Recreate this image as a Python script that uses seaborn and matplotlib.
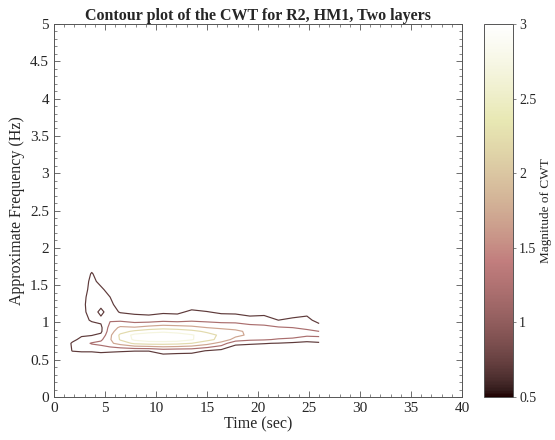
import numpy as np
import matplotlib
matplotlib.use("Agg")
import matplotlib.pyplot as plt
from matplotlib.ticker import MultipleLocator
import seaborn as sns

# ====================================
# DATA
# ====================================
freqs = [0.41, 0.52, 0.62, 0.72, 0.77, 0.83, 0.88, 0.93, 1.03, 1.14, 1.24, 1.34, 1.44, 1.55, 1.65, 1.75, 1.86]
times = [0, 0.8, 1.8, 2.7, 3.7, 4.6, 5.5, 6.5, 7.9, 9.3, 10.7, 12.1, 13.5, 15, 16.4, 17.8, 19.2, 20.6, 22, 23.4, 24.8, 26]

# one list per time column, values along freqs
cwt_mag = [
    [0.05, 0.1, 0.2, 0.25, 0.25, 0.2, 0.2, 0.15, 0.15, 0.1, 0.1, 0.1, 0.1, 0.05, 0.05, 0.05, 0.05],
    [0.1, 0.2, 0.35, 0.4, 0.4, 0.35, 0.3, 0.3, 0.25, 0.2, 0.2, 0.15, 0.1, 0.1, 0.1, 0.1, 0.1],
    [0.15, 0.35, 0.72, 0.75, 0.6, 0.5, 0.45, 0.4, 0.35, 0.35, 0.3, 0.25, 0.2, 0.15, 0.1, 0.1, 0.1],
    [0.2, 0.4, 0.75, 0.95, 0.8, 0.65, 0.5, 0.5, 0.55, 0.55, 0.55, 0.5, 0.4, 0.35, 0.3, 0.2, 0.1],
    [0.2, 0.4, 0.75, 1.25, 0.9, 0.68, 0.55, 0.5, 0.75, 0.9, 0.95, 0.95, 0.9, 0.85, 0.75, 0.5, 0.3],
    [0.2, 0.4, 0.8, 1.35, 1.1, 0.8, 0.6, 0.6, 0.8, 0.6, 0.8, 0.85, 0.8, 0.55, 0.4, 0.25, 0.15],
    [0.15, 0.35, 0.78, 1.6, 1.65, 1.6, 1.5, 1.4, 1.15, 0.9, 0.8, 0.7, 0.5, 0.35, 0.25, 0.2, 0.1],
    [0.15, 0.35, 0.75, 1.9, 2.25, 2.3, 2.0, 1.8, 1.1, 0.66, 0.5, 0.35, 0.25, 0.2, 0.15, 0.1, 0.1],
    [0.1, 0.3, 0.72, 2.3, 2.8, 2.85, 2.3, 1.75, 0.95, 0.6, 0.35, 0.25, 0.2, 0.15, 0.1, 0.1, 0.1],
    [0.1, 0.3, 0.72, 2.4, 3.0, 3.0, 2.5, 1.9, 0.95, 0.55, 0.35, 0.25, 0.2, 0.15, 0.1, 0.1, 0.1],
    [0.15, 0.45, 0.9, 2.4, 3.05, 3.05, 2.6, 2.0, 1.05, 0.62, 0.4, 0.3, 0.2, 0.15, 0.1, 0.1, 0.1],
    [0.15, 0.45, 0.85, 2.35, 3.0, 2.95, 2.5, 1.95, 1.0, 0.6, 0.4, 0.3, 0.2, 0.15, 0.1, 0.1, 0.1],
    [0.15, 0.4, 0.85, 2.2, 2.75, 2.75, 2.35, 1.85, 1.1, 0.8, 0.45, 0.3, 0.2, 0.15, 0.1, 0.1, 0.1],
    [0.1, 0.3, 0.68, 1.9, 2.35, 2.4, 2.1, 1.7, 1.05, 0.72, 0.4, 0.3, 0.2, 0.15, 0.1, 0.1, 0.1],
    [0.1, 0.25, 0.55, 1.5, 2.05, 2.1, 1.95, 1.6, 1.0, 0.62, 0.35, 0.25, 0.2, 0.15, 0.1, 0.1, 0.1],
    [0.1, 0.2, 0.45, 0.78, 1.5, 1.85, 1.8, 1.55, 1.0, 0.6, 0.35, 0.25, 0.2, 0.15, 0.1, 0.1, 0.1],
    [0.1, 0.15, 0.4, 0.75, 1.3, 1.6, 1.6, 1.45, 0.85, 0.55, 0.3, 0.2, 0.15, 0.1, 0.1, 0.1, 0.1],
    [0.1, 0.15, 0.35, 0.72, 1.25, 1.5, 1.5, 1.35, 0.9, 0.55, 0.3, 0.2, 0.15, 0.1, 0.1, 0.1, 0.1],
    [0.1, 0.15, 0.3, 0.68, 1.15, 1.45, 1.45, 1.25, 0.7, 0.4, 0.25, 0.2, 0.15, 0.1, 0.1, 0.1, 0.1],
    [0.1, 0.15, 0.25, 0.6, 1.1, 1.4, 1.4, 1.2, 0.8, 0.45, 0.25, 0.2, 0.15, 0.1, 0.1, 0.1, 0.1],
    [0.1, 0.15, 0.25, 0.55, 0.9, 1.3, 1.3, 1.1, 0.85, 0.55, 0.25, 0.2, 0.15, 0.1, 0.1, 0.1, 0.1],
    [0.1, 0.15, 0.3, 0.6, 1.0, 1.3, 1.2, 0.95, 0.5, 0.3, 0.2, 0.15, 0.1, 0.1, 0.1, 0.1, 0.1],
]

contour_levels = [0.7, 1.2, 1.7, 2.2, 2.7]
cbar_ticks = [0.5, 1, 1.5, 2, 2.5, 3]

# ====================================
# STYLE
# ====================================
sns.set_style("ticks")
plt.rcParams["font.family"] = ["Liberation Serif", "DejaVu Serif"]
plt.rcParams["xtick.direction"] = "in"
plt.rcParams["ytick.direction"] = "in"

# ====================================
# PLOT
# ====================================
fig = plt.figure(figsize=(5.55, 4.4), dpi=100)
ax = fig.add_axes([0.0973, 0.0977, 0.735, 0.8477])
cax = fig.add_axes([0.872, 0.0977, 0.052, 0.8477])

Z = np.array(cwt_mag).T
norm = plt.Normalize(vmin=0.5, vmax=3)
cs = ax.contour(times, freqs, Z, levels=contour_levels, cmap="pink", norm=norm, linewidths=0.85)

ax.set_xlim(0, 40)
ax.set_ylim(0, 5)
ax.xaxis.set_major_locator(MultipleLocator(5))
ax.xaxis.set_minor_locator(MultipleLocator(1))
ax.yaxis.set_major_locator(MultipleLocator(0.5))
ax.yaxis.set_minor_locator(MultipleLocator(0.1))
ax.yaxis.set_major_formatter(plt.FuncFormatter(lambda v, p: f"{v:g}"))
ax.tick_params(which="both", top=True, right=True, color="#555555", labelsize=11)
ax.tick_params(which="major", length=4, width=0.6)
ax.tick_params(which="minor", length=2, width=0.5)
for spine in ax.spines.values():
    spine.set_linewidth(0.7)
    spine.set_color("#555555")

ax.set_title("Contour plot of the CWT for R2, HM1, Two layers", fontsize=11.5, fontweight="bold", pad=3)
ax.set_xlabel("Time (sec)", fontsize=11.5, labelpad=1)
ax.set_ylabel("Approximate Frequency (Hz)", fontsize=11.5, labelpad=4)

sm = plt.cm.ScalarMappable(norm=norm, cmap="pink")
cbar = fig.colorbar(sm, cax=cax, ticks=cbar_ticks)
cbar.ax.yaxis.set_major_formatter(plt.FuncFormatter(lambda v, p: f"{v:g}"))
cbar.ax.tick_params(direction="out", length=2.5, width=0.5, labelsize=10, color="#555555", pad=2)
cbar.outline.set_linewidth(0.7)
cbar.outline.set_edgecolor("#555555")
cbar.set_label("Magnitude of CWT", fontsize=9.5, labelpad=3)

fig.savefig("out.png", dpi=100)
